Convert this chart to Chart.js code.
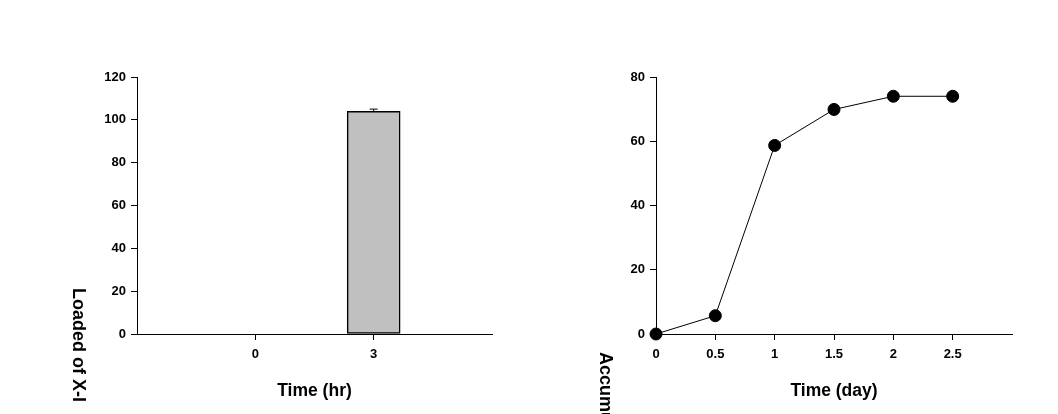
<!DOCTYPE html>
<html lang="en">
<head>
  <meta charset="UTF-8">
  <title>Loaded / Accumulated X-I</title>
  <script src="https://cdn.jsdelivr.net/npm/chart.js"></script>
  <style>
    body {
      margin: 0;
      background: #fff;
      width: 1058px;
      height: 414px;
      overflow: hidden;
      position: relative;
    }
    .panel {
      position: absolute;
      top: 0;
      width: 529px;
      height: 414px;
    }
    #leftPanel { left: 0; }
    #rightPanel { left: 529px; }
  </style>
</head>
<body>
  <div id="leftPanel" class="panel"><canvas id="loadedChart" width="529" height="414"></canvas></div>
  <div id="rightPanel" class="panel"><canvas id="accumChart" width="529" height="414"></canvas></div>

  <script>
    // data
    const hrLabels = ['0', '3'];
    const loaded = [0, 104];
    const loadedErr = [0, 1];

    const dayValues = [0, 0.5, 1, 1.5, 2, 2.5];
    const accumulated = [0, 5.7, 58.7, 69.9, 74, 74];

    const FONT = 'Arial, "Liberation Sans", sans-serif';
    Chart.defaults.font.family = FONT;
    Chart.defaults.color = '#000';

    // vertical axis title, reads top to bottom
    const sideTitle = {
      id: 'sideTitle',
      afterDraw(chart, args, opts) {
        const ctx = chart.ctx;
        ctx.save();
        ctx.translate(opts.x, opts.y);
        ctx.rotate(Math.PI / 2);
        ctx.font = 'bold 18px ' + FONT;
        ctx.fillStyle = '#000';
        ctx.textBaseline = 'alphabetic';
        ctx.fillText(opts.text, 0, 0);
        ctx.restore();
      }
    };

    const errorBars = {
      id: 'errorBars',
      afterDatasetsDraw(chart) {
        const { ctx, scales: { x, y } } = chart;
        ctx.save();
        ctx.strokeStyle = '#000';
        ctx.lineWidth = 1;
        loaded.forEach((v, i) => {
          if (!loadedErr[i]) return;
          const px = x.getPixelForValue(i);
          const base = y.getPixelForValue(v);
          const top = y.getPixelForValue(v + loadedErr[i]);
          ctx.beginPath();
          ctx.moveTo(px, base);
          ctx.lineTo(px, top);
          ctx.moveTo(px - 4, top);
          ctx.lineTo(px + 4, top);
          ctx.stroke();
        });
        ctx.restore();
      }
    };

    function axisStyle(extra) {
      return Object.assign({
        offset: false,
        border: { display: true, color: '#000', width: 1 },
        grid: { display: true, offset: false, drawOnChartArea: false, drawTicks: true, tickLength: 6, color: '#000' }
      }, extra);
    }

    const tickFont = { size: 13, weight: 'bold' };
    const titleFont = { size: 17.5, weight: 'bold' };

    new Chart(document.getElementById('loadedChart'), {
      type: 'bar',
      data: {
        datasets: [{
          data: loaded.map((v, i) => ({ x: i, y: v })),
          backgroundColor: '#c0c0c0',
          borderColor: '#000',
          borderWidth: 1.5,
          borderSkipped: false,
          barThickness: 53
        }]
      },
      options: {
        responsive: false,
        animation: false,
        layout: { padding: { left: 0, top: 77, right: 37, bottom: 0 } },
        plugins: {
          legend: { display: false },
          tooltip: { enabled: false },
          sideTitle: { text: 'Loaded of X-I', x: 73, y: 288 }
        },
        scales: {
          x: axisStyle({
            type: 'linear',
            min: -1,
            max: 2,
            afterBuildTicks: s => { s.ticks = hrLabels.map((_, i) => ({ value: i })); },
            afterFit: s => { s.height = 80; },
            ticks: { font: tickFont, padding: 7, callback: v => hrLabels[v] ?? '' },
            title: { display: true, text: 'Time (hr)', font: titleFont, padding: { top: 0, bottom: 12 } }
          }),
          y: axisStyle({
            min: 0,
            max: 120,
            afterFit: s => { s.width = 137; },
            ticks: { stepSize: 20, font: tickFont, padding: 5 }
          })
        }
      },
      plugins: [errorBars, sideTitle]
    });

    new Chart(document.getElementById('accumChart'), {
      type: 'line',
      data: {
        datasets: [{
          data: dayValues.map((d, i) => ({ x: d, y: accumulated[i] })),
          borderColor: '#000',
          borderWidth: 1,
          backgroundColor: '#000',
          pointBackgroundColor: '#000',
          pointBorderColor: '#000',
          pointRadius: 6,
          tension: 0,
          clip: false
        }]
      },
      options: {
        responsive: false,
        animation: false,
        layout: { padding: { left: 0, top: 77, right: 46, bottom: 0 } },
        plugins: {
          legend: { display: false },
          tooltip: { enabled: false },
          sideTitle: { text: 'Accumulated', x: 71, y: 352 }
        },
        scales: {
          x: axisStyle({
            type: 'linear',
            min: 0,
            max: 3,
            afterBuildTicks: s => { s.ticks = dayValues.map(d => ({ value: d })); },
            afterFit: s => { s.height = 80; },
            ticks: { font: tickFont, padding: 7, callback: v => String(v) },
            title: { display: true, text: 'Time (day)', font: titleFont, padding: { top: 0, bottom: 12 } }
          }),
          y: axisStyle({
            min: 0,
            max: 80,
            afterFit: s => { s.width = 127; },
            ticks: { stepSize: 20, font: tickFont, padding: 5 }
          })
        }
      },
      plugins: [sideTitle]
    });
  </script>
</body>
</html>
